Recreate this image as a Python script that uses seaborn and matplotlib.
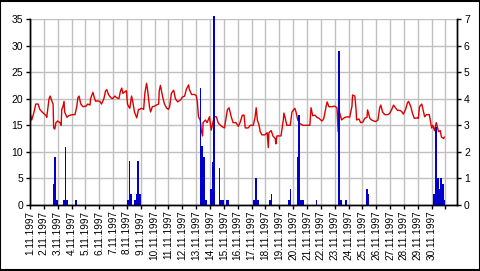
import numpy as np
import pandas as pd
import matplotlib
matplotlib.use("Agg")
import matplotlib.pyplot as plt
import seaborn as sns
from matplotlib.patches import Rectangle

# ---- data -------------------------------------------------------------
days = [f"{d}.11.1997" for d in range(1, 31)]

temp_hour = [0, 3, 7, 10, 14, 17, 21, 24, 28, 29, 33, 35, 38, 40, 41, 43, 45, 48, 52, 54,
             55, 57, 59, 60, 62, 64, 67, 73, 78, 81, 83, 85, 88, 92, 97, 100, 104, 105, 109, 112,
             114, 117, 121, 124, 128, 131, 133, 136, 140, 143, 147, 150, 154, 157, 159, 161, 164, 167, 169, 171,
             173, 176, 178, 181, 185, 188, 190, 193, 197, 199, 202, 204, 207, 209, 212, 216, 219, 223, 224, 226,
             230, 233, 237, 240, 242, 245, 249, 252, 256, 261, 264, 268, 271, 275, 276, 280, 285, 288, 290, 292,
             295, 297, 299, 300, 304, 307, 311, 314, 316, 319, 323, 326, 328, 332, 337, 340, 342, 345, 349, 352,
             357, 361, 364, 368, 371, 373, 378, 382, 387, 390, 392, 394, 397, 399, 402, 407, 411, 413, 414, 418,
             421, 425, 426, 428, 435, 439, 440, 442, 445, 451, 454, 459, 461, 464, 468, 473, 480, 485, 487, 490,
             494, 497, 501, 506, 509, 513, 515, 518, 523, 528, 532, 534, 535, 537, 540, 542, 546, 551, 554, 558,
             559, 563, 565, 566, 570, 573, 577, 580, 584, 585, 589, 592, 596, 599, 603, 606, 608, 611, 615, 620,
             623, 627, 630, 634, 637, 641, 644, 647, 651, 654, 656, 660, 663, 666, 672, 673, 675, 679, 682, 684,
             687, 692, 696, 698, 701, 704, 708, 711, 713, 717, 718]
temp_val = [17.3, 16.0, 17.5, 19.0, 19.0, 18.0, 17.5, 17.2, 16.8, 16.5, 20.0, 20.5, 19.5, 19.0, 14.5, 14.3, 15.5, 15.8, 15.5, 15.0,
            18.0, 18.5, 19.5, 17.5, 17.0, 16.5, 16.8, 17.0, 17.0, 18.5, 20.2, 20.5, 19.0, 18.5, 18.6, 19.0, 18.8, 20.0, 21.2, 20.0,
            19.5, 19.6, 19.5, 19.0, 20.0, 21.5, 21.7, 20.8, 20.2, 20.0, 20.5, 20.2, 20.0, 21.5, 22.0, 21.0, 21.3, 21.5, 19.0, 18.5,
            18.2, 20.5, 19.5, 17.5, 16.4, 18.0, 18.0, 18.2, 18.0, 21.0, 22.9, 21.5, 18.5, 17.5, 18.5, 18.6, 18.8, 19.0, 21.5, 22.5,
            20.3, 19.0, 18.2, 18.0, 18.5, 21.0, 21.6, 20.0, 19.4, 19.8, 20.3, 20.5, 21.8, 22.6, 21.8, 20.8, 20.8, 20.6, 19.4, 16.6,
            16.0, 14.0, 13.0, 15.5, 16.0, 15.5, 16.6, 14.1, 15.0, 16.6, 16.6, 15.5, 15.2, 14.8, 14.5, 16.5, 17.9, 18.3, 16.5, 15.5,
            15.5, 14.8, 15.5, 16.9, 16.9, 14.5, 14.5, 15.0, 15.0, 16.5, 18.3, 16.0, 15.0, 13.8, 13.2, 13.2, 13.6, 10.8, 13.6, 14.0,
            13.0, 12.5, 11.5, 13.0, 13.0, 16.0, 17.3, 16.5, 15.0, 15.0, 17.5, 18.2, 17.5, 16.0, 15.3, 15.0, 15.0, 15.0, 18.3, 16.8,
            16.9, 16.5, 16.3, 15.8, 16.2, 18.5, 19.4, 18.5, 18.5, 18.6, 18.3, 13.8, 18.0, 17.2, 16.0, 16.2, 16.5, 16.6, 16.5, 18.6,
            20.7, 20.5, 18.0, 16.0, 16.2, 15.5, 15.6, 16.3, 16.5, 17.9, 16.3, 16.0, 15.8, 15.7, 16.0, 18.3, 18.8, 17.5, 17.0, 17.0,
            17.2, 18.0, 18.8, 18.2, 17.8, 17.8, 17.6, 17.1, 18.0, 19.2, 19.5, 18.5, 17.2, 16.3, 16.4, 16.3, 18.5, 19.0, 17.5, 16.6,
            17.0, 17.0, 14.5, 15.0, 14.0, 15.5, 13.8, 14.0, 12.8, 12.5, 12.8]

rain_hour = [39, 42, 45, 57, 60, 63, 78, 168, 171, 174, 180, 183, 186, 189,
             294, 297, 300, 303, 312, 315, 318, 327, 330, 333, 339, 342,
             387, 390, 393, 414, 417, 447, 450, 462, 465, 468, 471, 495,
             534, 537, 546, 582, 585, 699, 702, 705, 708, 711, 714, 717]
rain_val = [0.8, 1.82, 0.2, 0.2, 2.2, 0.2, 0.2, 0.2, 1.64, 0.42, 0.2, 0.42, 1.64, 0.42,
            4.4, 2.22, 1.82, 0.2, 0.59, 1.63, 7.1, 1.38, 0.2, 0.2, 0.2, 0.2,
            0.2, 1.0, 0.2, 0.2, 0.42, 0.2, 0.59, 1.82, 3.39, 0.2, 0.2, 0.2,
            5.8, 0.2, 0.2, 0.59, 0.42, 0.42, 2.95, 1.0, 0.59, 1.0, 0.8, 0.2]

left_ticks = [0, 5, 10, 15, 20, 25, 30, 35]
right_ticks = [0, 1, 2, 3, 4, 5, 6, 7]

# ---- style ------------------------------------------------------------
sns.set_theme(style="white")
plt.rcParams["font.family"] = ["Liberation Sans", "DejaVu Sans"]

temp_df = pd.DataFrame({"hour": temp_hour, "temp": temp_val})
rain_df = pd.DataFrame({"hour": [h + 1.5 for h in rain_hour], "rain": rain_val})

fig = plt.figure(figsize=(4.81, 2.71), dpi=100)
fig.patch.set_facecolor("white")
ax = fig.add_axes([30 / 481, 1 - 205 / 271, 427 / 481, 186 / 271])
ax.set_facecolor("white")

sns.lineplot(data=temp_df, x="hour", y="temp", ax=ax, color="#dd0000", linewidth=1.0)

ax2 = ax.twinx()
sns.histplot(data=rain_df, x="hour", weights="rain", binwidth=3, binrange=(0, 720), ax=ax2,
             color="#0000cc", linewidth=0, alpha=1)
for p in ax2.patches:
    p.set_clip_on(False)
    p.set_edgecolor("none")
    p.set_facecolor("#0000cc")

xmax = 740
ax.set_xlim(0, xmax)
ax2.set_xlim(0, xmax)
ax.set_ylim(0, 35)
ax2.set_ylim(0, 7)

ax.set_xticks([24 * i for i in range(31)])
ax.set_xticklabels(days + [""], rotation=90, fontsize=7.2)
ax.set_yticks(left_ticks)
ax.set_yticklabels([str(v) for v in left_ticks], fontsize=7.5)
ax2.set_yticks(right_ticks)
ax2.set_yticklabels([str(v) for v in right_ticks], fontsize=7.5)

ax.grid(True, color="#c0c0c0", linewidth=1.0)
ax.set_axisbelow(True)
ax2.grid(False)

for a in (ax, ax2):
    a.set_xlabel("")
    a.set_ylabel("")
    a.spines["top"].set_visible(False)
    for s in ("left", "right", "bottom"):
        a.spines[s].set_color("black")
        a.spines[s].set_linewidth(1.0)

ax.tick_params(axis="y", which="both", left=True, direction="out", length=3, width=1, pad=2, colors="black")
ax.tick_params(axis="x", bottom=True, direction="out", length=3, width=1, pad=1, colors="black")
ax2.tick_params(axis="y", right=True, direction="out", length=3, width=1, pad=2, colors="black")

fig.patches.append(Rectangle((0.001, 0.002), 0.997, 0.995, transform=fig.transFigure,
                             fill=False, edgecolor="black", linewidth=1.5))

fig.savefig("out.png", dpi=100, facecolor="white")
